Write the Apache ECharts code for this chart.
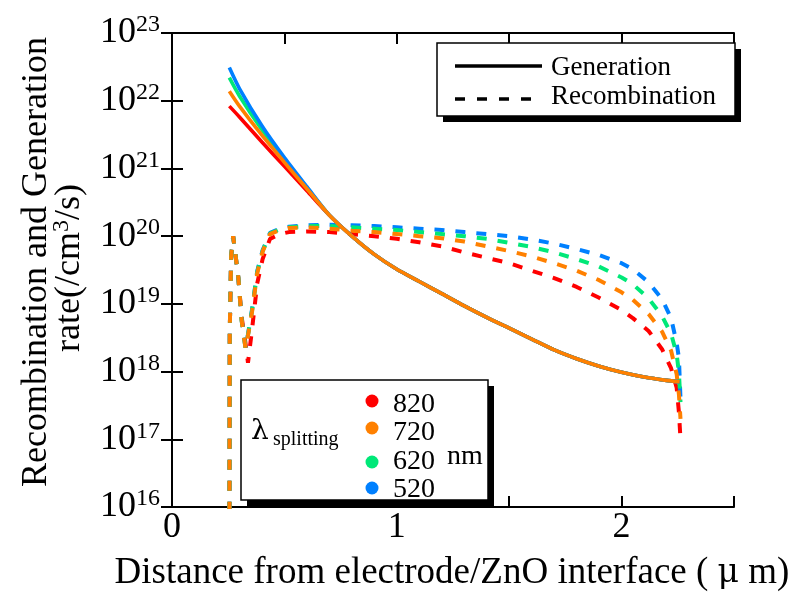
<!DOCTYPE html>
<html>
<head>
<meta charset="utf-8">
<script src="https://cdn.jsdelivr.net/npm/echarts@6/dist/echarts.min.js"></script>
<style>
  html, body { margin: 0; padding: 0; background: #fff; }
  #chart { width: 791px; height: 597px; }
</style>
</head>
<body>
<div id="chart"></div>
<script>
// Splitting wavelengths (nm) and their colours
const wavelengths = ['820', '720', '620', '520'];
const colors = ['#ff0000', '#ff8000', '#00e878', '#0080ff'];

// Y tick exponents (rate = 10^n /cm^3/s)
const yExponents = [16, 17, 18, 19, 20, 21, 22, 23];

// Generation rate: distance (um) and log10(rate)
const xGen = [0.255, 0.3, 0.4, 0.5, 0.6, 0.7, 0.8, 0.9, 1.0, 1.1, 1.2, 1.3, 1.4, 1.5, 1.6, 1.7, 1.8, 1.9, 2.0, 2.1, 2.2, 2.258];
const genHead820 = [21.92, 21.76, 21.39, 21.03, 20.67, 20.31];
const genHead720 = [22.14, 21.92, 21.49, 21.09, 20.70, 20.31];
const genHead620 = [22.34, 22.07, 21.57, 21.13, 20.72, 20.31];
const genHead520 = [22.49, 22.18, 21.63, 21.16, 20.73, 20.31];
const genTail = [20.00, 19.73, 19.51, 19.33, 19.15, 18.97, 18.80, 18.64, 18.48, 18.32, 18.19, 18.08, 17.99, 17.92, 17.87, 17.85];

// Recombination rate: distance (um) and log10(rate)
const xRec = [0.255, 0.257, 0.263, 0.272, 0.295, 0.31, 0.327, 0.338, 0.356, 0.379, 0.403, 0.436, 0.48, 0.52,
  0.6, 0.7, 0.8, 0.9, 1.0, 1.1, 1.2, 1.3, 1.4, 1.5, 1.6, 1.7, 1.8, 1.9, 2.0,
  2.05, 2.12, 2.18, 2.22, 2.245, 2.255, 2.262];
const rec820 = [15, 18.6, 19.7, 20.0, 19.39, 18.80, 18.42, 18.13, 18.62, 19.30, 19.66, 19.96, 20.03, 20.06,
  20.07, 20.06, 20.03, 20.00, 19.96, 19.91, 19.85, 19.76, 19.68, 19.60, 19.49, 19.38, 19.25, 19.09, 18.91,
  18.79, 18.60, 18.33, 18.05, 17.76, 17.40, 17.00];
const rec720 = [15, 18.6, 19.7, 20.0, 19.39, 18.75, 18.34, 18.53, 18.88, 19.45, 19.77, 20.03, 20.09, 20.12,
  20.13, 20.11, 20.08, 20.06, 20.03, 20.00, 19.97, 19.92, 19.85, 19.78, 19.70, 19.60, 19.49, 19.35, 19.17,
  19.06, 18.85, 18.59, 18.31, 17.96, 17.66, 17.30];
const rec620 = [15, 18.6, 19.7, 20.0, 19.39, 18.75, 18.35, 18.54, 18.90, 19.47, 19.78, 20.04, 20.10, 20.13,
  20.15, 20.15, 20.13, 20.11, 20.09, 20.06, 20.03, 20.00, 19.96, 19.90, 19.84, 19.76, 19.66, 19.55, 19.39,
  19.29, 19.08, 18.82, 18.56, 18.26, 17.98, 17.55];
const rec520 = [15, 18.6, 19.7, 20.0, 19.39, 18.75, 18.35, 18.55, 18.92, 19.48, 19.79, 20.05, 20.11, 20.14,
  20.16, 20.17, 20.16, 20.15, 20.13, 20.11, 20.09, 20.06, 20.03, 20.00, 19.95, 19.89, 19.81, 19.72, 19.60,
  19.51, 19.32, 19.07, 18.79, 18.42, 18.20, 17.60];

const FONT = 'Liberation Serif';
const GREEK_FONT = 'DejaVu Serif';
const toPairs = (xs, exps) => xs.map((x, i) => [x, Math.pow(10, exps[i])]);

const genSets = [genHead820, genHead720, genHead620, genHead520].map(h => h.concat(genTail));
const recSets = [rec820, rec720, rec620, rec520];

function lineSeries(name, data, color, dashed) {
  return {
    name: name,
    type: 'line',
    data: data,
    showSymbol: false,
    smooth: dashed ? false : 0.25,
    clip: true,
    lineStyle: dashed
      ? { color: color, width: 4, type: [10, 11] }
      : { color: color, width: 3.6, type: 'solid' },
    emphasis: { disabled: true }
  };
}

// dashed recombination first, then solid generation on top; orange drawn last
const recOrder = [0, 3, 2, 1];
const genOrder = [0, 2, 3, 1];
const series = [];
recOrder.forEach(i => series.push(lineSeries('R' + wavelengths[i], toPairs(xRec, recSets[i]), colors[i], true)));
genOrder.forEach(i => series.push(lineSeries('G' + wavelengths[i], toPairs(xGen, genSets[i]), colors[i], false)));

const axisLineStyle = { show: true, lineStyle: { color: '#000', width: 2 } };
const tickStyle = { show: true, inside: true, length: 11, lineStyle: { color: '#000', width: 2 } };

const dotY = [401, 428, 462, 488];
const numY = [405, 433, 462, 490];

const graphic = [
  // Line-style legend
  { type: 'rect', z: 100, shape: { x: 443, y: 49, width: 298, height: 73 }, style: { fill: '#000' } },
  { type: 'rect', z: 101, shape: { x: 437, y: 43, width: 298, height: 73 }, style: { fill: '#fff', stroke: '#000', lineWidth: 1.5 } },
  { type: 'line', z: 102, shape: { x1: 455, y1: 66, x2: 542, y2: 66 }, style: { stroke: '#000', lineWidth: 3.5 } },
  { type: 'line', z: 102, shape: { x1: 455, y1: 99, x2: 531, y2: 99 }, style: { stroke: '#000', lineWidth: 3.5, lineDash: [10, 12] } },
  { type: 'text', z: 102, x: 551, y: 68, style: { text: 'Generation', fontFamily: FONT, fontSize: 27, fill: '#000', verticalAlign: 'middle' } },
  { type: 'text', z: 102, x: 551, y: 97, style: { text: 'Recombination', fontFamily: FONT, fontSize: 27, fill: '#000', verticalAlign: 'middle' } },

  // Wavelength legend
  { type: 'rect', z: 100, shape: { x: 247, y: 386, width: 247, height: 120 }, style: { fill: '#000' } },
  { type: 'rect', z: 101, shape: { x: 241, y: 380, width: 247, height: 120 }, style: { fill: '#fff', stroke: '#000', lineWidth: 1.5 } },
  { type: 'text', z: 102, x: 251, y: 432, style: { text: 'λ', fontFamily: GREEK_FONT, fontSize: 28, fill: '#000', verticalAlign: 'middle' } },
  { type: 'text', z: 102, x: 273, y: 440, style: { text: 'splitting', fontFamily: FONT, fontSize: 20, fill: '#000', verticalAlign: 'middle' } },
  { type: 'text', z: 102, x: 447, y: 457, style: { text: 'nm', fontFamily: FONT, fontSize: 28, fill: '#000', verticalAlign: 'middle' } }
];
wavelengths.forEach((w, i) => {
  graphic.push({ type: 'circle', z: 102, shape: { cx: 372, cy: dotY[i], r: 6.5 }, style: { fill: colors[i] } });
  graphic.push({ type: 'text', z: 102, x: 393, y: numY[i], style: { text: w, fontFamily: FONT, fontSize: 28, fill: '#000', verticalAlign: 'middle' } });
});

// Axis titles
graphic.push({
  type: 'text', z: 102, x: 452, y: 573,
  style: {
    text: 'Distance from electrode/ZnO interface ( {g|μ} m)', fontFamily: FONT, fontSize: 37, fill: '#000', align: 'center', verticalAlign: 'middle',
    rich: { g: { fontFamily: GREEK_FONT, fontSize: 33, fill: '#000' } }
  }
});
graphic.push({
  type: 'text', z: 102, x: 37, y: 262, rotation: Math.PI / 2,
  style: { text: 'Recombination and Generation', fontFamily: FONT, fontSize: 36, fill: '#000', align: 'center', verticalAlign: 'middle' }
});
graphic.push({
  type: 'text', z: 102, x: 70, y: 268, rotation: Math.PI / 2,
  style: {
    text: 'rate(/cm{s|3}/s)', fontFamily: FONT, fontSize: 36, fill: '#000', align: 'center', verticalAlign: 'middle',
    rich: { s: { fontFamily: FONT, fontSize: 24, fill: '#000', verticalAlign: 'top', padding: [0, 0, 16, 0] } }
  }
});

const option = {
  animation: false,
  backgroundColor: '#fff',
  grid: { left: 172, right: 57, top: 33, bottom: 90, containLabel: false },
  xAxis: [
    {
      type: 'value', min: 0, max: 2.5, interval: 0.5,
      axisLine: axisLineStyle, axisTick: tickStyle, splitLine: { show: false },
      axisLabel: {
        formatter: v => (Math.abs(v - Math.round(v)) < 1e-9 ? String(Math.round(v)) : ''),
        fontFamily: FONT, fontSize: 36, color: '#000', margin: 3
      }
    },
    {
      type: 'value', position: 'top', min: 0, max: 2.5, interval: 0.5,
      axisLine: axisLineStyle, axisTick: tickStyle, splitLine: { show: false }, axisLabel: { show: false }
    }
  ],
  yAxis: [
    {
      type: 'log', logBase: 10, min: Math.pow(10, yExponents[0]), max: Math.pow(10, yExponents[yExponents.length - 1]),
      splitNumber: yExponents.length - 1,
      axisLine: axisLineStyle, axisTick: tickStyle, splitLine: { show: false },
      axisLabel: {
        margin: 12,
        formatter: v => '{b|10}{s|' + Math.round(Math.log10(v)) + '}',
        rich: {
          b: { fontFamily: FONT, fontSize: 36, color: '#000' },
          s: { fontFamily: FONT, fontSize: 24, color: '#000', verticalAlign: 'top', padding: [0, 0, 16, 0] }
        }
      }
    },
    {
      type: 'log', logBase: 10, position: 'right', min: Math.pow(10, yExponents[0]), max: Math.pow(10, yExponents[yExponents.length - 1]),
      splitNumber: yExponents.length - 1,
      axisLine: axisLineStyle, axisTick: tickStyle, splitLine: { show: false }, axisLabel: { show: false }
    }
  ],
  series: series,
  graphic: graphic
};

const chart = echarts.init(document.getElementById('chart'));
chart.setOption(option);
</script>
</body>
</html>
